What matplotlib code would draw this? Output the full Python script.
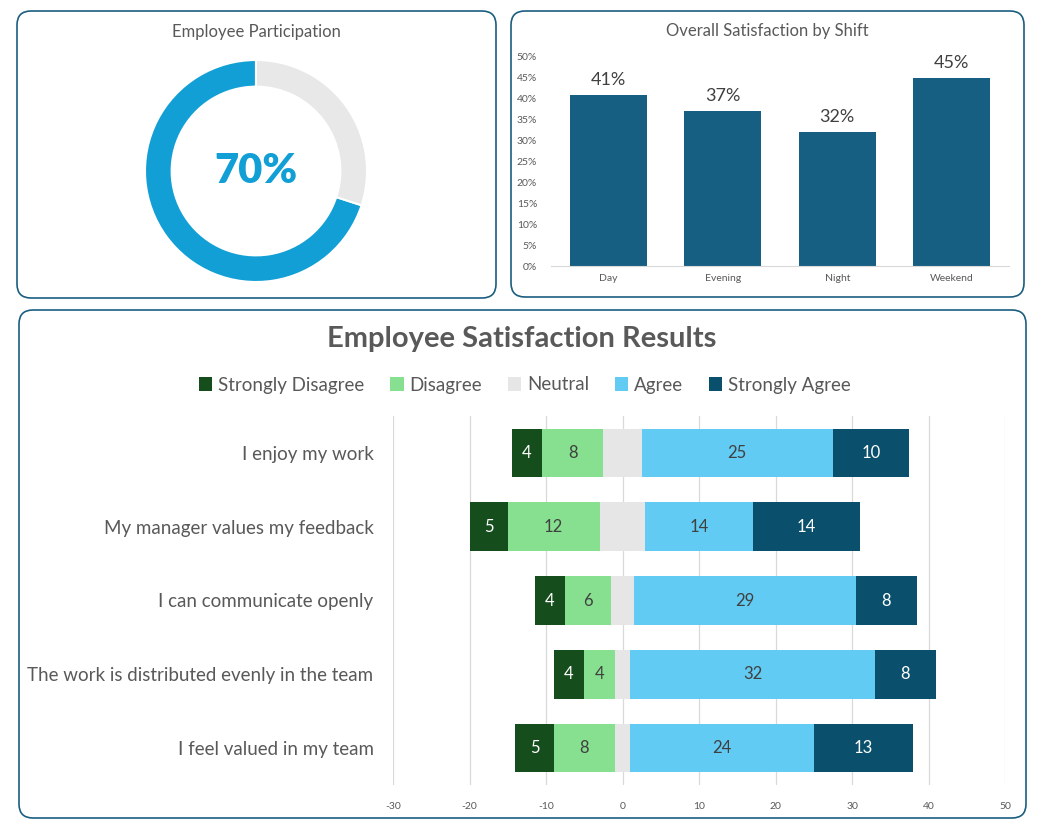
import matplotlib.pyplot as plt
from matplotlib.patches import FancyBboxPatch
import numpy as np

plt.rcParams['font.family'] = ['Lato', 'DejaVu Sans']
plt.rcParams['axes.unicode_minus'] = False

# participation donut
participation = 70
# satisfaction by shift
shifts = ['Day', 'Evening', 'Night', 'Weekend']
shift_sat = [0.41, 0.37, 0.32, 0.45]
# survey results
questions = ['I enjoy my work', 'My manager values my feedback', 'I can communicate openly',
             'The work is distributed evenly in the team', 'I feel valued in my team']
strongly_disagree = [4, 5, 4, 4, 5]
disagree = [8, 12, 6, 4, 8]
neutral = [5, 6, 3, 2, 2]
agree = [25, 14, 29, 32, 24]
strongly_agree = [10, 14, 8, 8, 13]

W, H = 1038, 835
fig = plt.figure(figsize=(W / 100, H / 100), dpi=100)

def fbox(l, t, r, b):
    return [l / W, 1 - b / H, (r - l) / W, (b - t) / H]

border = '#1B5E80'
grey = '#595959'

# background panels drawn in pixel coords
bg = fig.add_axes([0, 0, 1, 1], zorder=-1)
bg.set_xlim(0, W)
bg.set_ylim(H, 0)
bg.axis('off')
for (l, t, r, b) in [(17, 11, 496, 298), (511, 11, 1024, 297), (19, 310, 1026, 818)]:
    bg.add_patch(FancyBboxPatch((l, t), r - l, b - t, boxstyle='round,pad=0,rounding_size=14',
                                fc='white', ec=border, lw=1.2))

bg.text(256, 32, 'Employee Participation', ha='center', va='center', fontsize=12, color=grey)
bg.text(767, 31, 'Overall Satisfaction by Shift', ha='center', va='center', fontsize=12, color=grey)
bg.text(522, 339, 'Employee Satisfaction Results', ha='center', va='center', fontsize=21,
        fontweight='bold', color=grey)

# donut
ax1 = fig.add_axes(fbox(145, 60, 367, 282))
ax1.pie([participation, 100 - participation], colors=['#119FD6', '#E8E8E8'], startangle=90,
        counterclock=True, wedgeprops=dict(width=0.24, edgecolor='white', linewidth=1.5))
ax1.set_xlim(-1, 1)
ax1.set_ylim(-1, 1)
ax1.text(0, 0, f'{participation}%', ha='center', va='center', fontsize=30, fontweight='heavy',
         color='#119FD6')

# shift bars
ax2 = fig.add_axes(fbox(551, 57, 1009, 266))
x = np.arange(len(shifts))
bars = ax2.bar(x, shift_sat, width=0.67, color='#175F82')
ax2.bar_label(bars, labels=[f'{v:.0%}' for v in shift_sat], padding=5, fontsize=13, color='#404040')
ax2.set_ylim(0, 0.5)
ax2.set_xlim(-0.5, 3.5)
ax2.set_yticks(np.arange(0, 0.51, 0.05))
ax2.set_yticklabels([f'{int(round(v * 100))}%' for v in np.arange(0, 0.51, 0.05)])
ax2.set_xticks(x)
ax2.set_xticklabels(shifts)
ax2.tick_params(length=0, labelsize=7.5, labelcolor=grey)
ax2.tick_params(axis='y', pad=10)
ax2.tick_params(axis='x', pad=6)
for s in ['top', 'right', 'left']:
    ax2.spines[s].set_visible(False)
ax2.spines['bottom'].set_color('#D9D9D9')

# diverging stacked bars
ax3 = fig.add_axes(fbox(393, 416, 1005, 785))
sd = np.array(strongly_disagree)
d = np.array(disagree)
n = np.array(neutral)
a = np.array(agree)
sa = np.array(strongly_agree)
y = np.arange(len(questions))
h = 0.66
start_sd = -(n / 2 + d + sd)
series = [
    ('Strongly Disagree', sd, start_sd, '#154D1C', 'white'),
    ('Disagree', d, start_sd + sd, '#86E08F', '#404040'),
    ('Neutral', n, -n / 2, '#E7E6E6', None),
    ('Agree', a, n / 2, '#61CBF3', '#404040'),
    ('Strongly Agree', sa, n / 2 + a, '#0A4F6B', 'white'),
]
for name, vals, left, col, tcol in series:
    bc = ax3.barh(y, vals, left=left, height=h, color=col, label=name, zorder=2)
    if tcol:
        ax3.bar_label(bc, labels=[str(v) for v in vals], label_type='center', fontsize=12, color=tcol)
ax3.set_xlim(-30, 50)
ax3.set_ylim(len(questions) - 0.5, -0.5)
ax3.set_xticks(np.arange(-30, 51, 10))
ax3.set_yticks(y)
ax3.set_yticklabels(questions, fontsize=13.5, color=grey)
ax3.tick_params(length=0)
ax3.tick_params(axis='x', labelsize=7.5, labelcolor=grey, pad=12)
ax3.tick_params(axis='y', pad=14)
ax3.grid(axis='x', color='#D9D9D9', lw=0.9, zorder=0)
ax3.set_axisbelow(True)
for s in ax3.spines.values():
    s.set_visible(False)

fig.legend(loc='center', bbox_to_anchor=(525 / W, 1 - 385 / H), ncol=5, frameon=False,
           fontsize=13.5, labelcolor=grey, handlelength=0.7, handleheight=0.7,
           handletextpad=0.3, columnspacing=1.4)

plt.savefig('out.png', dpi=100)
